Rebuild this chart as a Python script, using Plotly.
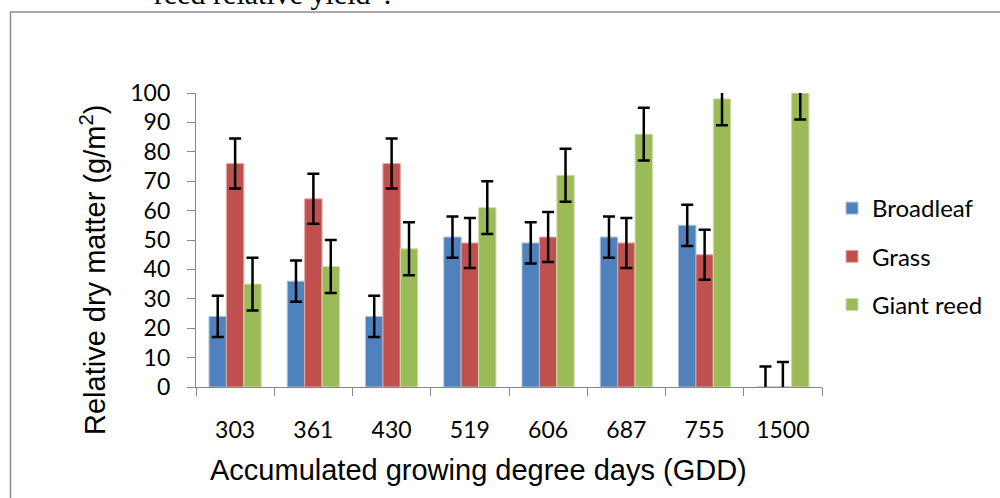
import plotly.graph_objects as go

# Accumulated growing degree days (category labels)
gdd = ["303", "361", "430", "519", "606", "687", "755", "1500"]

# Relative dry matter (g/m2) per weed group
broadleaf = [24, 36, 24, 51, 49, 51, 55, 0]
grass = [76, 64, 76, 49, 51, 49, 45, 0]
giant_reed = [35, 41, 47, 61, 72, 86, 98, 100]

# Error bar half-widths
broadleaf_err = [7, 7, 7, 7, 7, 7, 7, 7]
grass_err = [8.5, 8.5, 8.5, 8.5, 8.5, 8.5, 8.5, 8.5]
giant_reed_err = [9, 9, 9, 9, 9, 9, 9, 9]

series = [
    ("Broadleaf", broadleaf, broadleaf_err, "#4F81BD", "#A9C1E0"),
    ("Grass", grass, grass_err, "#C0504D", "#E0A9A7"),
    ("Giant reed", giant_reed, giant_reed_err, "#9BBB59", "#CDDDAC"),
]

# Plot area in pixels
W, H = 1000, 498
L, R, T, B = 196, 178, 93, 111
PW, PH = W - L - R, H - T - B


def px(x):
    return (x - L) / PW


def py(y):
    return (H - B - y) / PH


fig = go.Figure()
for i, (name, vals, errs, color, edge) in enumerate(series):
    fig.add_trace(go.Bar(
        x=gdd, y=vals, name=name,
        legendgroup=name,
        marker=dict(color=color, line=dict(color=edge, width=1)),
        error_y=dict(type="data", array=errs, visible=True,
                     color="black", thickness=2.5, width=6),
    ))

tick_font = dict(family="Lato, 'Open Sans', sans-serif", size=23, color="#000000")
title_font = dict(family="'Liberation Sans', Arial, sans-serif", size=29, color="#000000")

fig.update_layout(
    width=W, height=H,
    margin=dict(l=L, r=R, t=T, b=B, pad=0),
    paper_bgcolor="white", plot_bgcolor="white",
    barmode="group", bargap=0.333, bargroupgap=0,
    showlegend=True,
    legend=dict(
        x=px(832), y=py(186), xanchor="left", yanchor="top",
        font=dict(family="Lato, 'Open Sans', sans-serif", size=24, color="#000000"),
        traceorder="grouped", tracegroupgap=14,
        bgcolor="rgba(0,0,0,0)",
    ),
    xaxis=dict(
        type="category", showgrid=False, showline=True,
        linecolor="#868686", linewidth=1.3,
        ticks="outside", tickson="boundaries", ticklen=8,
        tickcolor="#868686", tickwidth=1.3,
        tickfont=tick_font, ticklabelstandoff=22,
    ),
    yaxis=dict(
        range=[0, 100], dtick=10, showgrid=False, showline=True,
        linecolor="#868686", linewidth=1.3,
        ticks="outside", ticklen=8, tickcolor="#868686", tickwidth=1.3,
        tickfont=tick_font, ticklabelstandoff=12, zeroline=False,
    ),
    shapes=[
        # Frame around the chart object
        dict(type="rect", xref="paper", yref="paper",
             x0=px(10.5), x1=px(1010), y0=py(12), y1=py(520),
             line=dict(color="#8C8C8C", width=1.5), fillcolor="rgba(0,0,0,0)",
             layer="below"),
    ],
    annotations=[
        dict(text="Relative dry matter (g/m<sup>2</sup>)", textangle=-90,
             xref="paper", yref="paper", x=px(93), y=py(270),
             xanchor="center", yanchor="middle", showarrow=False,
             font=title_font),
        dict(text="Accumulated growing degree days (GDD)",
             xref="paper", yref="paper", x=px(478), y=py(470),
             xanchor="center", yanchor="middle", showarrow=False,
             font=title_font),
        dict(text="reed relative yield\u201d.",
             xref="paper", yref="paper", x=px(152), y=py(-7),
             xanchor="left", yanchor="middle", showarrow=False,
             font=dict(family="'Liberation Serif', 'Times New Roman', serif",
                       size=30, color="#000000")),
    ],
)

fig.write_html("out.html")
